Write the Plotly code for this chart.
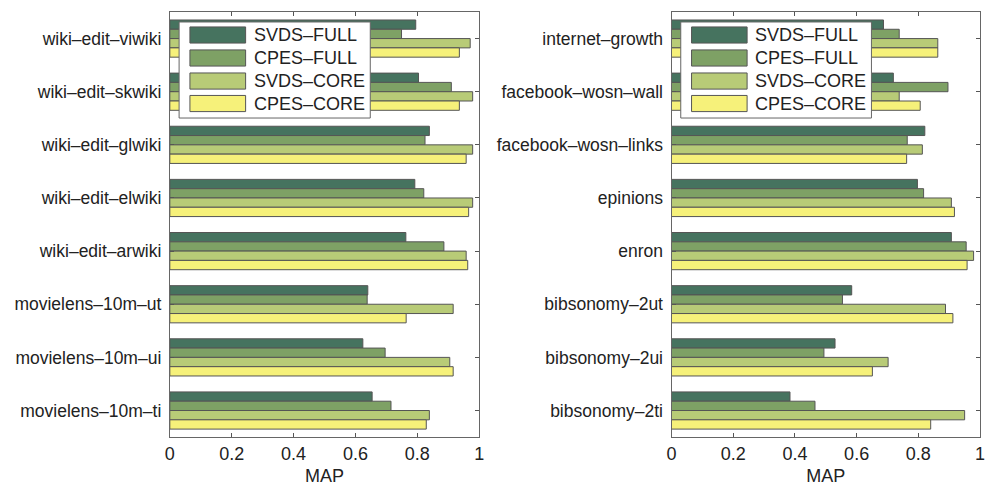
import plotly.graph_objects as go

series = ["SVDS–FULL", "CPES–FULL", "SVDS–CORE", "CPES–CORE"]
colors = ["#46735f", "#7ea165", "#b8cb77", "#f6f17a"]

left_cats = ["wiki–edit–viwiki", "wiki–edit–skwiki", "wiki–edit–glwiki", "wiki–edit–elwiki",
             "wiki–edit–arwiki", "movielens–10m–ut", "movielens–10m–ui", "movielens–10m–ti"]
left_svds_full = [0.795, 0.804, 0.839, 0.792, 0.763, 0.640, 0.624, 0.654]
left_cpes_full = [0.749, 0.910, 0.825, 0.821, 0.886, 0.638, 0.696, 0.715]
left_svds_core = [0.971, 0.979, 0.979, 0.979, 0.958, 0.916, 0.905, 0.839]
left_cpes_core = [0.936, 0.936, 0.958, 0.966, 0.963, 0.764, 0.916, 0.829]

right_cats = ["internet–growth", "facebook–wosn–wall", "facebook–wosn–links", "epinions",
              "enron", "bibsonomy–2ut", "bibsonomy–2ui", "bibsonomy–2ti"]
right_svds_full = [0.687, 0.719, 0.821, 0.797, 0.907, 0.584, 0.530, 0.384]
right_cpes_full = [0.738, 0.896, 0.764, 0.817, 0.955, 0.554, 0.494, 0.465]
right_svds_core = [0.863, 0.738, 0.813, 0.907, 0.979, 0.888, 0.702, 0.950]
right_cpes_core = [0.863, 0.806, 0.762, 0.917, 0.958, 0.912, 0.651, 0.840]

x_ticks = [0, 0.2, 0.4, 0.6, 0.8, 1]
x_ticktext = ["0", "0.2", "0.4", "0.6", "0.8", "1"]

W, H = 991, 490
FONT = "Liberation Sans, Arial, Helvetica, sans-serif"
TXT = "#222222"
EDGE = "#555555"

fig = go.Figure()

panels = [
    ("x", "y", left_cats, [left_svds_full, left_cpes_full, left_svds_core, left_cpes_core]),
    ("x2", "y2", right_cats, [right_svds_full, right_cpes_full, right_svds_core, right_cpes_core]),
]
for xa, ya, cats, vals in panels:
    for name, col, v in zip(series, colors, vals):
        fig.add_trace(go.Bar(
            y=cats, x=v, orientation="h", name=name, xaxis=xa, yaxis=ya,
            marker=dict(color=col, line=dict(color=EDGE, width=1)),
            showlegend=False,
        ))

def xaxis_cfg(domain, anchor):
    return dict(domain=domain, anchor=anchor, range=[0, 1], tickvals=x_ticks, ticktext=x_ticktext,
                ticks="inside", ticklen=4, tickcolor="#555", showline=True, linecolor="#666",
                linewidth=1, mirror="ticks", showgrid=False, zeroline=False,
                tickfont=dict(family=FONT, size=18, color=TXT),
                title=dict(text="MAP", font=dict(family=FONT, size=18, color=TXT), standoff=6))

def yaxis_cfg(anchor):
    return dict(domain=[0.108, 0.9755], anchor=anchor, autorange="reversed", type="category",
                ticks="inside", ticklen=4, tickcolor="#555", showline=True, linecolor="#666",
                linewidth=1, mirror="ticks", showgrid=False, zeroline=False,
                tickfont=dict(family=FONT, size=17.5, color=TXT), ticklabelstandoff=4)

fig.update_layout(
    width=W, height=H,
    margin=dict(l=0, r=0, t=0, b=0),
    paper_bgcolor="white", plot_bgcolor="white",
    barmode="group", bargap=0.3, bargroupgap=0,
    xaxis=xaxis_cfg([166.5 / W, 479 / W], "y"),
    yaxis=yaxis_cfg("x"),
    xaxis2=xaxis_cfg([673.3 / W, 985 / W], "y2"),
    yaxis2=yaxis_cfg("x2"),
)

# manual legends (wide swatches like the original)
shapes = []
annotations = []
row_y = [0.9459, 0.8918, 0.8376, 0.7847]
half = 0.019
for xr, yr in [("x domain", "y domain"), ("x2 domain", "y2 domain")]:
    shapes.append(dict(type="rect", xref=xr, yref=yr, x0=0.03, x1=0.648, y0=0.7506, y1=0.9765,
                       fillcolor="white", line=dict(color="#666", width=1), layer="above"))
    for name, col, yc in zip(series, colors, row_y):
        shapes.append(dict(type="rect", xref=xr, yref=yr, x0=0.065, x1=0.245,
                           y0=yc - half, y1=yc + half, fillcolor=col,
                           line=dict(color=EDGE, width=1), layer="above"))
        annotations.append(dict(xref=xr, yref=yr, x=0.265, y=yc, text=name, showarrow=False,
                                xanchor="left", yanchor="middle",
                                font=dict(family=FONT, size=18, color=TXT)))
fig.update_layout(shapes=shapes, annotations=annotations)

fig.write_html("out.html")
